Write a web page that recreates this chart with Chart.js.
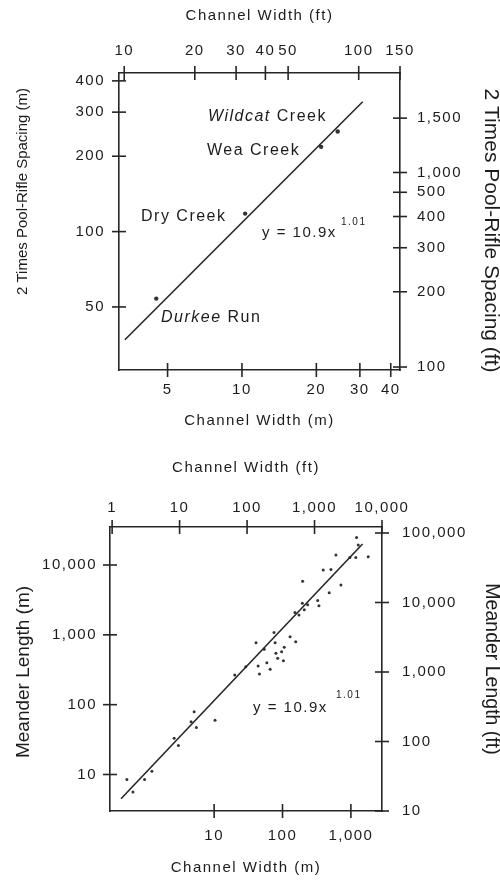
<!DOCTYPE html>
<html><head><meta charset="utf-8">
<script src="https://cdn.jsdelivr.net/npm/chart.js@4"></script>
<style>
html,body{margin:0;padding:0;background:#fff;}
#wrap{position:relative;width:500px;height:880px;overflow:hidden;}
canvas{position:absolute;left:0;}
</style></head><body>
<div id="wrap">
<canvas id="c1" width="500" height="440" style="top:0"></canvas>
<canvas id="c2" width="500" height="440" style="top:440px"></canvas>
</div>
<script>
// ---------- Top panel: pool-riffle spacing ----------
const riffleSites = ['Durkee Run', 'Dry Creek', 'Wea Creek', 'Wildcat Creek'];
const riffleWidthM = [4.5, 10.3, 20.9, 24.4];
const riffleSpacingM = [54, 118, 218, 251];
const riffleFitWidthM = [3.36, 30.8];
const riffleFitSpacingM = [37, 330];
const riffleBottomTicksM = [5, 10, 20, 30, 40];
const riffleTopTicksFt = [10, 20, 30, 40, 50, 100, 150];
const riffleLeftTicksM = [50, 100, 200, 300, 400];
// right (ft) axis: where the printed labels sit on the ft scale, and the labels as printed
const riffleRightTicksFt = [100, 200, 300, 400, 500, 600, 990];
const riffleRightTickLabels = ['100', '200', '300', '400', '500', '1,000', '1,500'];

// ---------- Bottom panel: meander length ----------
const meanderWidthM = [0.53, 0.65, 0.96, 1.23, 2.6, 3.0, 5.1, 4.6, 5.5, 10.3,
  20, 29, 41, 44, 46, 54, 59, 66, 75, 78,
  80, 85, 97, 103, 106, 129, 156, 152, 174, 195,
  208, 233, 327, 341, 197, 394, 511, 604, 715, 482,
  967, 1180, 1210, 1280, 1790];
const meanderLengthM = [8.5, 5.6, 8.5, 11.1, 33, 26, 79, 57, 47, 60,
  266, 350, 773, 358, 275, 621, 399, 321, 1076, 773,
  545, 462, 574, 427, 664, 942, 798, 2080, 1930, 2840,
  2280, 2690, 3100, 2600, 5870, 8450, 8620, 13900, 5150, 3990,
  12800, 12800, 24800, 19300, 13100];
const meanderFitWidthM = [0.435, 1480];
const meanderFitLengthM = [4.5, 20000];
const meanderBottomTicksM = [10, 100, 1000];
const meanderTopTicksFt = [1, 10, 100, 1000, 10000];
const meanderLeftTicksM = [10, 100, 1000, 10000];
const meanderRightTicksFt = [10, 100, 1000, 10000, 100000];
const equationText = 'y = 10.9x';
const equationExp = '1.01';

// ---------- styling ----------
const FONT = "'Liberation Sans', Arial, Helvetica, sans-serif";
const INK = '#1c1c1c';
const LINE = '#262626';
const SPACING = '1.5px';

const pts = (xs, ys) => xs.map((x, i) => ({x, y: ys[i]}));
const fmt = v => Number(v).toLocaleString('en-US');

function axis(o) {
  const vertical = o.position === 'left' || o.position === 'right';
  return {
    type: 'logarithmic',
    position: o.position,
    min: o.min, max: o.max,
    afterBuildTicks: s => { s.ticks = o.ticks.map(v => ({value: v})); },
    afterFit: s => {
      if (vertical) s.width = o.size; else s.height = o.size;
      if (!s._titleWrapped) {
        s._titleWrapped = true;
        const orig = s.drawTitle;
        s.drawTitle = function () {
          const ctx = this.ctx;
          ctx.save();
          ctx.letterSpacing = o.titleSpacing || SPACING;
          ctx.translate((o.shift || [0, 0])[0], (o.shift || [0, 0])[1]);
          orig.call(this);
          ctx.restore();
        };
      }
    },
    grid: {display: true, drawOnChartArea: false, drawTicks: false},
    border: {display: true, color: LINE, width: 1.6},
    ticks: {padding: o.pad, color: INK, font: {family: FONT, size: 15},
      autoSkip: false, maxRotation: 0, minRotation: 0,
      callback: (v, i) => (o.labels ? o.labels[i] : fmt(v))},
    title: {display: true, text: o.title, color: INK,
      font: {family: FONT, size: o.titleSize}, padding: o.titlePad,
      align: o.titleAlign || 'center'}
  };
}

const frame = {
  id: 'frame',
  beforeUpdate(c) { c.ctx.letterSpacing = SPACING; },
  beforeLayout(c) { c.ctx.letterSpacing = SPACING; },
  beforeDraw(c) { c.ctx.letterSpacing = SPACING; },
  afterDraw(c, a, opts) {
    const ctx = c.ctx, ca = c.chartArea;
    ctx.save();
    ctx.letterSpacing = SPACING;
    ctx.strokeStyle = LINE; ctx.lineWidth = 1.6;
    Object.values(c.scales).forEach(s => {
      const h = opts.half;
      s.ticks.forEach(t => {
        const p = s.getPixelForValue(t.value);
        ctx.beginPath();
        if (s.position === 'left') { ctx.moveTo(ca.left - h, p); ctx.lineTo(ca.left + h, p); }
        else if (s.position === 'right') { ctx.moveTo(ca.right - h, p); ctx.lineTo(ca.right + h, p); }
        else if (s.position === 'top') { ctx.moveTo(p, ca.top - h); ctx.lineTo(p, ca.top + h); }
        else { ctx.moveTo(p, ca.bottom - h); ctx.lineTo(p, ca.bottom + h); }
        ctx.stroke();
      });
    });
    ctx.fillStyle = INK; ctx.textBaseline = 'middle'; ctx.textAlign = 'left';
    (opts.notes || []).forEach(n => {
      let x = ca.left + n.dx; const y = ca.top + n.dy;
      const words = n.text.split(' ');
      words.forEach((w, i) => {
        const piece = (i ? ' ' : '') + w;
        const it = n.italicFirst && i === 0;
        ctx.font = (it ? 'italic ' : '') + n.size + 'px ' + FONT;
        ctx.fillText(piece, x, y);
        x += ctx.measureText(piece).width;
      });
    });
    ctx.restore();
  }
};

function makeChart(id, cfg) {
  return new Chart(document.getElementById(id), {
    type: 'scatter',
    data: {datasets: [
      {data: pts(cfg.fitX, cfg.fitY), showLine: true, pointRadius: 0,
        borderColor: LINE, borderWidth: 1.6, xAxisID: 'x', yAxisID: 'y'},
      {data: pts(cfg.px, cfg.py), pointRadius: cfg.r, pointBackgroundColor: '#333',
        pointBorderWidth: 0, xAxisID: 'x', yAxisID: 'y'}
    ]},
    options: {
      responsive: false, animation: false, devicePixelRatio: 1,
      layout: {padding: 0},
      plugins: {legend: {display: false}, tooltip: {enabled: false},
        frame: {half: 7, notes: cfg.notes}},
      scales: cfg.scales
    },
    plugins: [frame]
  });
}

// Top chart
makeChart('c1', {
  fitX: riffleFitWidthM, fitY: riffleFitSpacingM,
  px: riffleWidthM, py: riffleSpacingM, r: 2.2,
  notes: [
    {text: riffleSites[3], italicFirst: true, dx: 89, dy: 44, size: 16},
    {text: riffleSites[2], dx: 88, dy: 78, size: 16},
    {text: riffleSites[1], dx: 22, dy: 144, size: 16},
    {text: riffleSites[0], italicFirst: true, dx: 42, dy: 245, size: 16},
    {text: equationText, dx: 143, dy: 160, size: 15},
    {text: equationExp, dx: 222, dy: 149, size: 10}
  ],
  scales: {
    x: axis({position: 'bottom', min: 3.18, max: 43.6, ticks: riffleBottomTicksM, size: 70, pad: 11,
      title: 'Channel Width (m)', titleSize: 15, titlePad: {top: 0, bottom: 10}}),
    xFt: axis({position: 'top', min: 9.5, max: 150, ticks: riffleTopTicksFt, size: 73, pad: 13,
      title: 'Channel Width (ft)', titleSize: 15, titlePad: {top: 7, bottom: 0}}),
    y: axis({position: 'left', min: 28, max: 430, ticks: riffleLeftTicksM, size: 119, pad: 14,
      title: '2 Times Pool-Rifle Spacing (m)', titleSize: 15, titlePad: {top: 14, bottom: 0},
      titleAlign: 'end', titleSpacing: '0px', shift: [0, 15]}),
    yFt: axis({position: 'right', min: 97.3, max: 1500, ticks: riffleRightTicksFt,
      labels: riffleRightTickLabels, size: 100, pad: 17,
      title: '2 Times Pool-Rifle Spacing (ft)', titleSize: 21, titlePad: {top: 0, bottom: 0},
      titleSpacing: '0px', shift: [3, 9]})
  }
});

// Bottom chart
makeChart('c2', {
  fitX: meanderFitWidthM, fitY: meanderFitLengthM,
  px: meanderWidthM, py: meanderLengthM, r: 1.5,
  notes: [
    {text: equationText, dx: 143, dy: 181, size: 15},
    {text: equationExp, dx: 226, dy: 168, size: 10}
  ],
  scales: {
    x: axis({position: 'bottom', min: 0.3, max: 2850, ticks: meanderBottomTicksM, size: 69, pad: 16,
      title: 'Channel Width (m)', titleSize: 15, titlePad: {top: 0, bottom: 3}}),
    xFt: axis({position: 'top', min: 0.93, max: 10000, ticks: meanderTopTicksFt, size: 87, pad: 10,
      title: 'Channel Width (ft)', titleSize: 15, titlePad: {top: 19, bottom: 0}}),
    y: axis({position: 'left', min: 3, max: 35000, ticks: meanderLeftTicksM, size: 110, pad: 13,
      title: 'Meander Length (m)', titleSize: 19, titlePad: {top: 12, bottom: 0},
      titleSpacing: '0px', shift: [0, 3]}),
    yFt: axis({position: 'right', min: 10, max: 122000, ticks: meanderRightTicksFt, size: 118, pad: 20,
      title: 'Meander Length (ft)', titleSize: 19.5, titlePad: {top: 0, bottom: 0},
      titleSpacing: '0px', shift: [3, 0]})
  }
});
</script>
</body></html>
